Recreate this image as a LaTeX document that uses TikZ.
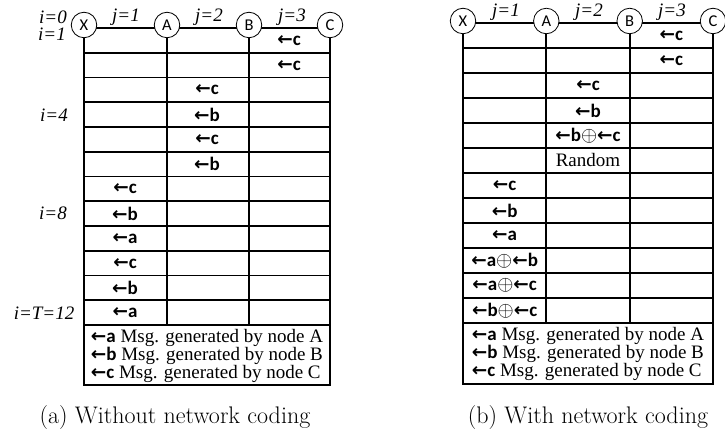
\documentclass[tikz,border=0pt]{standalone}
\usepackage{fontspec}
\newfontfamily\tnr{Liberation Serif}
\newfontfamily\carl{Carlito}
\newfontfamily\dvs{DejaVu Sans}
\newcommand{\ar}[1]{{\dvs\bfseries\fontsize{18.5}{16}\selectfont ←}{\carl\bfseries #1}}
\newcommand{\xo}{{\fontsize{19}{19}\selectfont\scalebox{1.2}{$\oplus$}}}
\begin{document}
\begin{tikzpicture}[x=1pt,y=-1pt,
  gridl/.style={line width=1.7pt, line cap=rect},
  stn/.style={circle, draw, line width=0.8pt, fill=white, minimum size=25.5pt, inner sep=0pt, font=\carl\fontsize{16.5}{16.5}\selectfont},
  cell/.style={inner sep=0pt, font=\carl\bfseries\fontsize{19}{19}\selectfont},
  ilab/.style={font=\tnr\itshape\fontsize{19}{19}\selectfont, inner sep=0pt},
  leg/.style={align=left, font=\tnr\fontsize{19}{16.3}\selectfont, inner sep=0pt},
  captxt/.style={font=\fontsize{24}{24}\selectfont, inner sep=0pt}]
\useasboundingbox (0,0) rectangle (725,435);
% ---------- left table ----------
\draw[gridl] (84,28) rectangle (330,385);
\foreach \k in {1,...,12} \draw[gridl] (84,{28+\k*24.75}) -- (330,{28+\k*24.75});
\foreach \x in {167,249} \draw[gridl] (\x,28) -- (\x,325);
\node[stn] (LX) at (84,25) {X};
\node[stn] (LA) at (167,25) {A};
\node[stn] (LB) at (249,25) {B};
\node[stn] (LC) at (330,25) {C};
\node[ilab] (Lj1) at (126,17) {j=1};
\node[ilab] (Lj2) at (209,17) {j=2};
\node[ilab] (Lj3) at (292,17) {j=3};
\node[ilab] (Li0) at (53,17) {i=0};
\node[ilab] (Li1) at (52,34) {i=1};
\node[ilab] (Li4) at (54,115) {i=4};
\node[ilab] (Li8) at (53,213) {i=8};
\node[ilab] (Li12) at (44,313) {i=T=12};
\foreach \r/\c/\m [count=\n] in {1/3/c,2/3/c,3/2/c,4/2/b,5/2/c,6/2/b,7/1/c,8/1/b,9/1/a,10/1/c,11/1/b,12/1/a}
  \node[cell] (Lc\n) at ({84+(\c-0.5)*82},{28+(\r-0.5)*24.75}) {\ar{\m}};
\node[leg] (Lleg) at (207,356) {\ar{a} Msg. generated by node A\\ \ar{b} Msg. generated by node B\\ \ar{c} Msg. generated by node C};
\node[captxt] (capA) at (175,418) {(a) Without network coding};
% ---------- right table ----------
\draw[gridl] (463,23) rectangle (713,384);
\foreach \k in {1,...,12} \draw[gridl] (463,{23+\k*25}) -- (713,{23+\k*25});
\foreach \x in {546.3,629.7} \draw[gridl] (\x,23) -- (\x,323);
\node[stn] (RX) at (463,21) {X};
\node[stn] (RA) at (546.3,21) {A};
\node[stn] (RB) at (629.7,21) {B};
\node[stn] (RC) at (713,21) {C};
\node[ilab] (Rj1) at (506,12) {j=1};
\node[ilab] (Rj2) at (589,12) {j=2};
\node[ilab] (Rj3) at (672,12) {j=3};
\foreach \r/\c/\m [count=\n] in {1/3/c,2/3/c,3/2/c,4/2/b,7/1/c,8/1/b,9/1/a}
  \node[cell] (Rc\n) at ({463+(\c-0.5)*83.33},{23+(\r-0.5)*25}) {\ar{\m}};
\node[cell] (Rbc) at ({463+1.5*83.33},{23+4.5*25}) {\ar{b}\xo\ar{c}};
\node[cell, font=\tnr\fontsize{19}{19}\selectfont] (Rrand) at ({463+1.5*83.33},{23+5.5*25}) {Random};
\node[cell] (Rab) at ({463+0.5*83.33},{23+9.5*25}) {\ar{a}\xo\ar{b}};
\node[cell] (Rac) at ({463+0.5*83.33},{23+10.5*25}) {\ar{a}\xo\ar{c}};
\node[cell] (Rbc2) at ({463+0.5*83.33},{23+11.5*25}) {\ar{b}\xo\ar{c}};
\node[leg] (Rleg) at (588,354) {\ar{a} Msg. generated by node A\\ \ar{b} Msg. generated by node B\\ \ar{c} Msg. generated by node C};
\node[captxt] (capB) at (588,418) {(b) With network coding};
\end{tikzpicture}
\end{document}
